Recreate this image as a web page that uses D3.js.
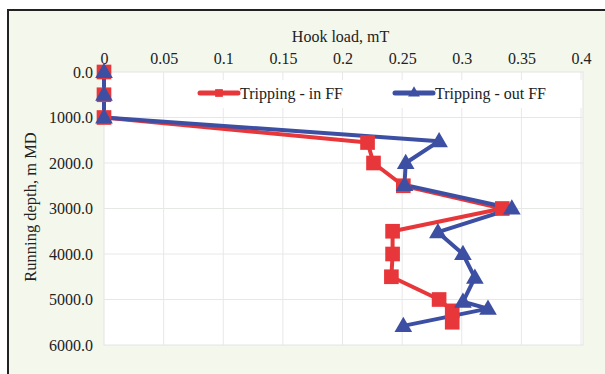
<!DOCTYPE html>
<html>
<head>
<meta charset="utf-8">
<script src="https://cdn.jsdelivr.net/npm/d3@7"></script>
<style>
  body { margin: 0; background: #fff; }
  text { font-family: "Liberation Serif", "DejaVu Serif", serif; fill: #222; }
</style>
</head>
<body>
<script>
// hook load (mT) vs running depth (m MD)
const inDepth  = [0, 500, 1000, 1550, 2000, 2500, 3000, 3500, 4000, 4500, 5000, 5250, 5500];
const inLoad   = [0, 0, 0, 0.221, 0.226, 0.251, 0.334, 0.242, 0.242, 0.241, 0.281, 0.292, 0.292];
const outDepth = [0, 500, 1000, 1520, 2000, 2480, 3000, 3520, 4000, 4520, 5050, 5200, 5580];
const outLoad  = [0, 0, 0, 0.281, 0.253, 0.252, 0.342, 0.28, 0.301, 0.311, 0.301, 0.322, 0.251];
const xTicks = [0, 0.05, 0.1, 0.15, 0.2, 0.25, 0.3, 0.35, 0.4];
const yTicks = [0, 1000, 2000, 3000, 4000, 5000, 6000];
const seriesNames = ["Tripping - in FF", "Tripping - out FF"];
const colors = ["#e8373a", "#3c4fa3"];

const W = 605, H = 374;
const svg = d3.select("body").append("svg")
    .attr("width", W)
    .attr("height", H);

// outer panel
svg.append("rect")
    .attr("x", 8).attr("y", 10)
    .attr("width", W - 8).attr("height", H - 10)
    .attr("fill", "#f4f7ec");
svg.append("path")
    .attr("d", `M8,${H} L8,10 L${W},10`)
    .attr("fill", "none")
    .attr("stroke", "#222")
    .attr("stroke-width", 2);

const x = d3.scaleLinear().domain([0, 0.4]).range([104, 581]);
const y = d3.scaleLinear().domain([0, 6000]).range([72, 345]);

svg.append("rect")
    .attr("x", x(0)).attr("y", y(0))
    .attr("width", x(0.4) - x(0) + 2).attr("height", y(6000) - y(0))
    .attr("fill", "#fff")
    .attr("stroke", "#e2e4e2");

// grid
svg.append("g").selectAll("line").data(xTicks.slice(1)).join("line")
    .attr("x1", d => x(d)).attr("x2", d => x(d))
    .attr("y1", y(0)).attr("y2", y(6000))
    .attr("stroke", "#e6e8e6");
svg.append("g").selectAll("line").data(yTicks.slice(1, -1)).join("line")
    .attr("x1", x(0)).attr("x2", x(0.4) + 2)
    .attr("y1", d => y(d)).attr("y2", d => y(d))
    .attr("stroke", "#e6e8e6");

// axes (labels only)
const xAxis = svg.append("g")
    .attr("transform", `translate(0,${y(0) - 8})`)
    .call(d3.axisTop(x).tickValues(xTicks).tickFormat(d => d === 0 ? "0" : String(d)).tickSize(0).tickPadding(0));
const yAxis = svg.append("g")
    .attr("transform", `translate(${x(0) - 11},0)`)
    .call(d3.axisLeft(y).tickValues(yTicks).tickFormat(d3.format(".1f")).tickSize(0).tickPadding(0));
[xAxis, yAxis].forEach(a => {
    a.select(".domain").remove();
    a.selectAll("text").attr("font-family", "Liberation Serif, serif").attr("font-size", 16).attr("fill", "#222");
});

svg.append("text")
    .attr("x", (x(0) + x(0.4)) / 2 - 2).attr("y", 42)
    .attr("text-anchor", "middle")
    .attr("font-size", 16)
    .text("Hook load, mT");
svg.append("text")
    .attr("transform", `translate(36,207) rotate(-90)`)
    .attr("text-anchor", "middle")
    .attr("font-size", 16.5)
    .text("Running depth, m MD");

// legend
const lg = svg.append("g");
lg.append("rect")
    .attr("x", 186).attr("y", 80)
    .attr("width", 396).attr("height", 28)
    .attr("fill", "#fff");

const square = d3.symbol().type(d3.symbolSquare).size(215);
const tri = d3.symbol().type(d3.symbolTriangle).size(135);

const line = d3.line().x(d => x(d[0])).y(d => y(d[1]));
const series = [
    { pts: d3.zip(inLoad, inDepth), sym: square },
    { pts: d3.zip(outLoad, outDepth), sym: tri }
];

series.forEach((s, i) => {
    svg.append("path")
        .attr("d", line(s.pts))
        .attr("fill", "none")
        .attr("stroke", colors[i])
        .attr("stroke-width", 4)
        .attr("stroke-linejoin", "round");
});
series.forEach((s, i) => {
    svg.append("g").selectAll("path").data(s.pts).join("path")
        .attr("d", s.sym)
        .attr("transform", d => `translate(${x(d[0])},${y(d[1]) + (i === 1 ? 1 : 0)})`)
        .attr("fill", colors[i]);
});

const legX = [200, 395];
seriesNames.forEach((name, i) => {
    const g = lg.append("g").attr("transform", `translate(${legX[i]},93)`);
    g.append("line")
        .attr("x1", 0).attr("x2", 38)
        .attr("stroke", colors[i]).attr("stroke-width", 5)
        .attr("stroke-linecap", "round");
    g.append("path")
        .attr("d", i === 0 ? d3.symbol().type(d3.symbolSquare).size(60)() : d3.symbol().type(d3.symbolTriangle).size(60)())
        .attr("transform", "translate(19,0)")
        .attr("fill", colors[i]);
    g.append("text")
        .attr("x", 40).attr("y", 5.5)
        .attr("font-size", 16)
        .text(name);
});
</script>
</body>
</html>
